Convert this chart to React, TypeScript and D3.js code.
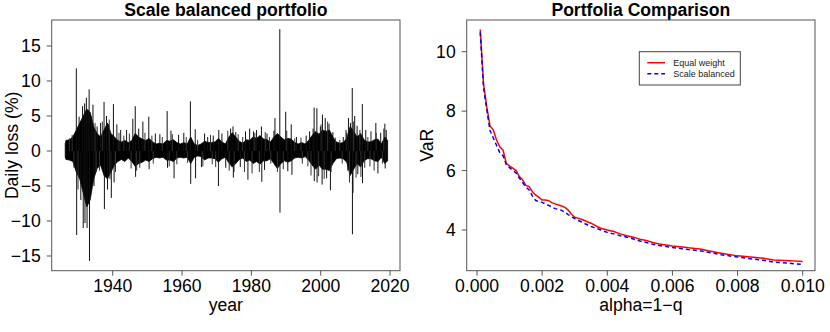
import React from "react";
import * as d3 from "d3";

// ---------- Left panel data: daily loss (%) of scale balanced portfolio ----------
const envYears = d3.range(1926, 2020); // 1926..2019
const envUpper = [
  1.5, 1.6, 2.0, 3.0, 4.0, 5.0, 6.0, 5.5, 3.5, 2.5, // 1926-1935
  2.0, 3.0, 4.0, 2.5, 2.0, 1.5, 1.3, 1.5, 1.2, 1.5, // 1936-1945
  2.5, 2.0, 1.7, 1.5, 1.8, 1.3, 1.0, 1.1, 1.0, 1.5, // 1946-1955
  1.4, 1.6, 1.2, 1.0, 1.2, 1.0, 2.0, 1.0, 0.8, 1.0, // 1956-1965
  1.4, 1.2, 1.2, 1.3, 1.8, 1.3, 1.0, 2.0, 2.6, 2.0, // 1966-1975
  1.4, 1.1, 1.6, 1.5, 2.0, 1.8, 2.2, 1.7, 1.6, 1.3, // 1976-1985
  2.0, 2.5, 2.0, 1.6, 1.8, 1.7, 1.2, 1.0, 1.2, 1.0, // 1986-1995
  1.5, 2.2, 2.8, 2.4, 3.0, 2.8, 3.0, 2.0, 1.3, 1.1, // 1996-2005
  1.2, 1.8, 3.5, 2.8, 2.0, 2.5, 1.6, 1.3, 1.3, 1.6, // 2006-2015
  1.7, 1.0, 2.0, 1.5, // 2016-2019
];
const envLower = [
  -1.2, -1.3, -1.5, -3.0, -4.0, -6.0, -8.0, -7.0, -4.0, -2.5, // 1926-1935
  -2.0, -3.5, -4.0, -3.0, -2.0, -1.5, -1.2, -1.5, -1.0, -1.5, // 1936-1945
  -2.2, -1.8, -1.6, -1.3, -1.5, -1.1, -0.9, -1.0, -0.9, -1.3, // 1946-1955
  -1.3, -1.5, -1.0, -0.9, -1.0, -0.9, -1.8, -0.9, -0.7, -0.8, // 1956-1965
  -1.3, -1.0, -1.0, -1.1, -1.6, -1.1, -0.9, -1.7, -2.3, -1.8, // 1966-1975
  -1.2, -1.0, -1.5, -1.3, -1.8, -1.5, -1.9, -1.4, -1.4, -1.1, // 1976-1985
  -1.8, -2.5, -1.8, -1.4, -1.6, -1.4, -1.0, -0.9, -1.0, -0.8, // 1986-1995
  -1.3, -2.0, -2.6, -2.0, -2.6, -2.6, -2.8, -1.8, -1.1, -1.0, // 1996-2005
  -1.1, -1.6, -3.5, -2.6, -1.8, -2.3, -1.4, -1.1, -1.1, -1.4, // 2006-2015
  -1.5, -0.9, -1.8, -1.4, // 2016-2019
];
const dataStart = 1926.3;
const dataEnd = 2019.3;

// Large visible spikes
const spikeYears = [
  1929.5, 1929.6, 1930.3, 1930.8, 1931.3, 1931.5, 1931.9, 1932.0, 1932.4, 1932.6,
  1932.9, 1933.2, 1933.3, 1933.8, 1934.3, 1934.6, 1935.5, 1936.5, 1937.5, 1937.6,
  1938.2, 1938.5, 1938.8, 1939.6, 1940.2, 1940.4, 1941.2, 1942.3, 1944.0, 1945.8,
  1946.5, 1946.6, 1947.5, 1948.7, 1950.4, 1950.5, 1952.3, 1953.6, 1955.7, 1955.8,
  1956.8, 1957.7, 1959.0, 1960.5, 1962.4, 1962.5, 1963.8, 1963.9, 1965.6, 1966.5,
  1967.4, 1969.0, 1970.6, 1970.5, 1971.5, 1972.6, 1974.0, 1974.7, 1974.8, 1975.5,
  1976.8, 1978.3, 1979.0, 1979.5, 1980.6, 1981.5, 1982.9, 1983.0, 1983.8, 1984.5,
  1986.5, 1986.8, 1988.2, 1988.25, 1989.9, 1990.5, 1991.5, 1991.7, 1993.0, 1995.8,
  1996.8, 1997.8, 1998.1, 1998.15, 1998.9, 1998.95, 1999.9, 2000.5, 2000.4, 2001.3,
  2001.7, 2002.4, 2002.8, 2003.5, 2006.5, 2007.3, 2007.8, 2008.0, 2008.6, 2009.1,
  2009.15, 2009.3, 2009.8, 2010.5, 2010.7, 2012.0, 2012.05, 2013.0, 2014.5, 2015.9,
  2016.5, 2017.3, 2018.5, 2018.9, 2018.6,
];
const spikeValues = [
  11.8, -12.0, 4.9, -7.0, 6.4, -11.0, 6.8, -10.3, 7.6, -11.0,
  5.9, 8.8, -15.7, 5.0, 6.6, -5.0, 3.5, 4.0, 7.0, -8.3,
  5.0, -5.5, 3.8, -6.7, 6.7, -4.5, 3.8, 3.0, 3.0, 4.6,
  6.4, -3.7, 3.2, 4.2, 4.9, -2.6, 2.5, 2.4, 5.7, -2.4,
  2.9, -3.9, 2.3, 2.6, 7.1, -4.7, 3.1, -3.9, -2.3, 2.5,
  2.0, 2.2, 3.0, -5.0, 2.5, -2.4, 3.2, 3.5, -3.8, 2.7,
  -2.3, 2.8, -4.1, 3.2, 2.8, 3.0, 3.5, -4.4, -2.7, 2.5,
  2.9, 4.7, 17.4, -8.8, 5.6, -2.9, 3.8, -3.4, 2.0, 2.2,
  2.8, 3.2, 6.2, -4.3, 6.1, -4.5, 3.5, 5.2, -4.8, 4.7,
  -3.9, 3.9, -5.6, 2.7, 2.0, 3.0, -2.8, 4.7, 4.0, 9.0,
  -11.9, -6.0, 5.0, 3.6, -3.3, 6.7, -4.6, 3.0, 2.8, 4.0,
  -3.2, 2.6, 3.9, 3.0, -2.5,
];

// Smaller spikes giving the noisy edge of the band
const minorSpikeYears = [
  1927.5, 1928.3, 1928.8, 1930.0, 1934.9, 1935.2, 1936.2, 1937.0, 1939.0, 1939.2,
  1940.8, 1941.8, 1943.2, 1944.8, 1945.3, 1946.9, 1947.8, 1949.3, 1951.3, 1951.7,
  1954.3, 1956.3, 1957.2, 1958.5, 1961.2, 1961.6, 1964.5, 1966.0, 1968.2, 1968.7,
  1969.7, 1973.2, 1973.6, 1975.0, 1976.2, 1977.5, 1978.0, 1980.2, 1981.0, 1982.3,
  1984.0, 1985.2, 1985.6, 1987.5, 1989.2, 1990.2, 1992.5, 1994.3, 1994.7, 1996.3,
  1997.2, 1999.4, 2000.1, 2001.0, 2002.0, 2003.0, 2004.2, 2005.5, 2006.2, 2007.5,
  2008.3, 2009.5, 2010.2, 2011.3, 2011.6, 2012.7, 2013.6, 2014.2, 2015.4, 2016.0,
  2017.8, 2018.2,
];
const minorSpikeValues = [
  1.8, 2.3, -2.4, -5.5, 4.0, -3.0, -2.8, 4.2, 4.5, -4.0,
  -3.0, 2.6, 2.2, 2.5, -2.5, -2.8, -2.4, 2.6, 2.2, -1.8,
  2.0, -2.2, 2.4, -1.9, 2.0, -1.7, 1.6, -2.2, 2.3, -1.9,
  -2.3, 2.9, -2.8, -3.0, 2.4, 2.0, -3.0, -3.2, 2.6, -3.0,
  2.7, 2.0, -1.8, -3.0, -2.6, 2.9, 1.8, 1.9, -1.8, -2.2,
  -3.5, -3.6, 3.8, -4.0, 4.2, -3.0, 1.9, 1.6, -1.8, 2.6,
  -4.5, 4.2, -3.8, 3.0, -3.7, -2.4, 2.0, -2.2, -2.8, 2.6,
  -1.8, 3.2,
];
const leftXTicks = [1940, 1960, 1980, 2000, 2020];
const leftYTicks = [-15, -10, -5, 0, 5, 10, 15];

// ---------- Right panel data: VaR vs alpha ----------
const alphas = [
  0.0001, 0.0002, 0.0003, 0.0004, 0.0005, 0.0006, 0.0007, 0.0008, 0.0009, 0.001,
  0.0011, 0.0012, 0.0013, 0.0014, 0.0015, 0.0016, 0.0017, 0.0018, 0.0019, 0.002,
  0.0021, 0.0022, 0.0023, 0.0024, 0.0025, 0.0026, 0.0027, 0.0028, 0.0029, 0.003,
  0.0031, 0.0032, 0.0033, 0.0034, 0.0035, 0.0036, 0.0037, 0.0038, 0.004, 0.0042,
  0.0044, 0.0046, 0.0048, 0.005, 0.0052, 0.0054, 0.0056, 0.006, 0.0063, 0.0065,
  0.0069, 0.0071, 0.0075, 0.008, 0.0084, 0.0088, 0.0091, 0.0096, 0.01,
];
const equalWeight = [
  10.75, 8.93, 8.15, 7.5, 7.37, 7.03, 6.8, 6.69, 6.24, 6.15,
  6.08, 6.0, 5.8, 5.69, 5.5, 5.46, 5.29, 5.18, 5.1, 5.01,
  5.01, 4.99, 4.92, 4.88, 4.84, 4.81, 4.76, 4.67, 4.53, 4.43,
  4.4, 4.36, 4.32, 4.27, 4.23, 4.17, 4.11, 4.06, 4.0, 3.95,
  3.87, 3.81, 3.76, 3.69, 3.65, 3.58, 3.53, 3.46, 3.43, 3.4,
  3.35, 3.3, 3.22, 3.13, 3.09, 3.05, 2.99, 2.97, 2.94,
];
const scaleBalanced = [
  10.65, 8.8, 8.05, 7.35, 7.1, 6.85, 6.6, 6.5, 6.2, 6.1,
  6.0, 5.92, 5.75, 5.6, 5.45, 5.35, 5.15, 5.0, 4.95, 4.93,
  4.88, 4.83, 4.77, 4.72, 4.7, 4.66, 4.6, 4.52, 4.45, 4.38,
  4.32, 4.28, 4.22, 4.17, 4.12, 4.08, 4.04, 4.0, 3.92, 3.87,
  3.81, 3.76, 3.7, 3.63, 3.58, 3.52, 3.48, 3.41, 3.37, 3.34,
  3.29, 3.25, 3.17, 3.09, 3.03, 2.98, 2.92, 2.88, 2.84,
];
const rightXTicks = [0, 0.002, 0.004, 0.006, 0.008, 0.01];
const rightYTicks = [4, 6, 8, 10];
const legendLabels = ["Equal weight", "Scale balanced"];

const FONT = "'Liberation Sans', Arial, Helvetica, sans-serif";
const W = 830;
const H = 332;

type Env = { x: number; u: number; l: number };

export default function App() {
  // Left panel geometry
  const L = { x0: 51.7, x1: 400, y0: 20, y1: 270.7 };
  const lx = d3.scaleLinear().domain([1922.4, 2022.87]).range([L.x0, L.x1]);
  const ly = d3.scaleLinear().domain([-17.1, 18.71]).range([L.y1, L.y0]);

  // Right panel geometry
  const R = { x0: 466.7, x1: 815, y0: 20, y1: 270.7 };
  const rx = d3.scaleLinear().domain([-0.000316, 0.010378]).range([R.x0, R.x1]);
  const ry = d3.scaleLinear().domain([2.631, 11.067]).range([R.y1, R.y0]);

  // Envelope points, centred in each year
  const envPts: Env[] = [{ x: dataStart, u: envUpper[0] * 0.7, l: envLower[0] * 0.7 }];
  envYears.forEach((yr, i) => {
    const cx = Math.min(Math.max(yr + 0.5, dataStart), dataEnd);
    envPts.push({ x: cx, u: envUpper[i], l: envLower[i] });
  });
  envPts.push({
    x: dataEnd,
    u: envUpper[envUpper.length - 1],
    l: envLower[envLower.length - 1],
  });
  const envArea = d3
    .area<Env>()
    .x((d) => lx(d.x))
    .y0((d) => ly(d.l))
    .y1((d) => ly(d.u))
    .curve(d3.curveLinear);

  const lineGen = d3
    .line<number>()
    .x((_, i) => rx(alphas[i]))
    .y((d) => ry(d));

  const tickFont = 17.6;
  const axisCol = "#555";

  return (
    <svg
      width={W}
      height={H}
      viewBox={`0 0 ${W} ${H}`}
      style={{ position: "absolute", left: 0, top: 0, background: "#fff" }}
      fontFamily={FONT}
    >
      <rect x={0} y={0} width={W} height={H} fill="#fff" />
      <defs>
        <clipPath id="clipL">
          <rect x={L.x0} y={L.y0} width={L.x1 - L.x0} height={L.y1 - L.y0} />
        </clipPath>
      </defs>

      {/* ---------------- Left panel ---------------- */}
      <text x={(L.x0 + L.x1) / 2} y={16} textAnchor="middle" fontSize={17.6} fontWeight="bold">
        Scale balanced portfolio
      </text>
      <g clipPath="url(#clipL)">
        <path d={envArea(envPts) || ""} fill="#000" stroke="#000" strokeWidth={0.8} />
        {minorSpikeYears.map((yr, i) => (
          <line
            key={"m" + i}
            x1={lx(yr)}
            x2={lx(yr)}
            y1={ly(0)}
            y2={ly(minorSpikeValues[i])}
            stroke="#333"
            strokeWidth={1}
          />
        ))}
        {spikeYears.map((yr, i) => (
          <line
            key={i}
            x1={lx(yr)}
            x2={lx(yr)}
            y1={ly(0)}
            y2={ly(spikeValues[i])}
            stroke="#111"
            strokeWidth={1}
          />
        ))}
      </g>
      <rect x={L.x0} y={L.y0} width={L.x1 - L.x0} height={L.y1 - L.y0} fill="none" stroke={axisCol} strokeWidth={1} />
      {leftXTicks.map((t) => (
        <g key={t}>
          <line x1={lx(t)} x2={lx(t)} y1={L.y1} y2={L.y1 + 5} stroke={axisCol} />
          <text x={lx(t)} y={291.7} textAnchor="middle" fontSize={tickFont}>
            {t}
          </text>
        </g>
      ))}
      {leftYTicks.map((t) => (
        <g key={t}>
          <line x1={L.x0 - 5} x2={L.x0} y1={ly(t)} y2={ly(t)} stroke={axisCol} />
          <text x={40.7} y={ly(t)} dy="0.36em" textAnchor="end" fontSize={tickFont}>
            {t < 0 ? "\u2212" + Math.abs(t) : t}
          </text>
        </g>
      ))}
      <text x={(L.x0 + L.x1) / 2} y={311} textAnchor="middle" fontSize={tickFont}>
        year
      </text>
      <text
        transform={`translate(18, ${(L.y0 + L.y1) / 2}) rotate(-90)`}
        textAnchor="middle"
        fontSize={tickFont}
      >
        Daily loss (%)
      </text>

      {/* ---------------- Right panel ---------------- */}
      <text x={(R.x0 + R.x1) / 2} y={16} textAnchor="middle" fontSize={17.6} fontWeight="bold">
        Portfolia Comparison
      </text>
      <path d={lineGen(equalWeight) || ""} fill="none" stroke="#ff0000" strokeWidth={1.5} />
      <path
        d={lineGen(scaleBalanced) || ""}
        fill="none"
        stroke="#0000ff"
        strokeWidth={1.5}
        strokeDasharray="4,3"
      />
      <rect x={R.x0} y={R.y0} width={R.x1 - R.x0} height={R.y1 - R.y0} fill="none" stroke={axisCol} strokeWidth={1} />
      {rightXTicks.map((t) => (
        <g key={t}>
          <line x1={rx(t)} x2={rx(t)} y1={R.y1} y2={R.y1 + 5} stroke={axisCol} />
          <text x={rx(t)} y={291.7} textAnchor="middle" fontSize={tickFont}>
            {d3.format(".3f")(t)}
          </text>
        </g>
      ))}
      {rightYTicks.map((t) => (
        <g key={t}>
          <line x1={R.x0 - 5} x2={R.x0} y1={ry(t)} y2={ry(t)} stroke={axisCol} />
          <text x={455.7} y={ry(t)} dy="0.36em" textAnchor="end" fontSize={tickFont}>
            {t}
          </text>
        </g>
      ))}
      <text x={(R.x0 + R.x1) / 2} y={311} textAnchor="middle" fontSize={tickFont}>
        alpha=1{"\u2212"}q
      </text>
      <text
        transform={`translate(433, ${(R.y0 + R.y1) / 2}) rotate(-90)`}
        textAnchor="middle"
        fontSize={tickFont}
      >
        VaR
      </text>

      {/* Legend */}
      <rect x={639.3} y={51.7} width={101} height={33.3} fill="#fff" stroke="#444" strokeWidth={1} />
      <line x1={647.3} x2={665} y1={62.7} y2={62.7} stroke="#ff0000" strokeWidth={1.5} />
      <line x1={647.3} x2={665} y1={73.7} y2={73.7} stroke="#0000ff" strokeWidth={1.5} strokeDasharray="4,3" />
      <text x={673.3} y={62.7} dy="0.36em" fontSize={9} fill="#222">
        {legendLabels[0]}
      </text>
      <text x={673.3} y={73.7} dy="0.36em" fontSize={9} fill="#222">
        {legendLabels[1]}
      </text>
    </svg>
  );
}
